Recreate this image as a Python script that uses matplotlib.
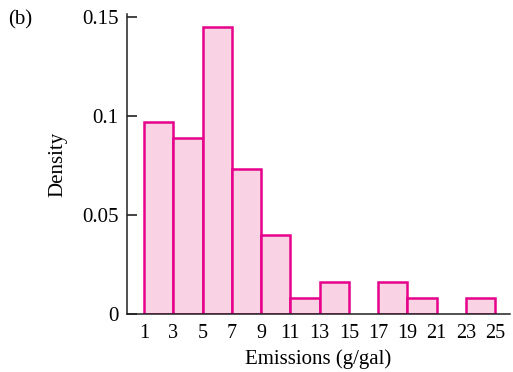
import numpy as np
import matplotlib
matplotlib.use('Agg')
from matplotlib import pyplot as plt

# bin edges (g/gal) and densities
edges = [1, 3, 5, 7, 9, 11, 13, 15, 17, 19, 21, 23, 25]
density = [0.097, 0.089, 0.145, 0.073, 0.040, 0.008, 0.016, 0.0, 0.016, 0.008, 0.0, 0.008]
xticks = [1, 3, 5, 7, 9, 11, 13, 15, 17, 19, 21, 23, 25]
yticks = [0, 0.05, 0.1, 0.15]
ylabels = ['0', '0.05', '0.1', '0.15']

plt.rcParams['font.family'] = ['Liberation Serif', 'DejaVu Serif']
plt.rcParams['font.size'] = 15

fig = plt.figure(figsize=(5.13, 3.72), dpi=100)
ax = fig.add_axes([0.2476, 0.156, 0.746, 0.806])

# draw the non-empty bins
for i in range(len(density)):
    if density[i] > 0:
        ax.bar(edges[i], density[i], width=edges[i+1]-edges[i], align='edge',
               facecolor='#f9d3e4', edgecolor='#e6008a', linewidth=1.8)

ax.set_xlim(-0.16, 26.0)
ax.set_ylim(0, 0.1515)
ax.set_xticks(xticks)
ax.set_yticks(yticks)
ax.set_yticklabels(ylabels)
ax.tick_params(axis='x', length=0, pad=7, labelsize=14.5)
ax.tick_params(axis='y', direction='in', length=7, width=1.2, pad=6, color='#222222')

for s in ['top', 'right']:
    ax.spines[s].set_visible(False)
for s in ['left', 'bottom']:
    ax.spines[s].set_color('#222222')
    ax.spines[s].set_linewidth(1.1)

ax.set_xlabel('Emissions (g/gal)', labelpad=5)
ax.set_ylabel('Density', labelpad=11)
fig.text(0.016, 0.972, '(b)', ha='left', va='top', fontsize=15)

fig.savefig('out.png', dpi=100)
